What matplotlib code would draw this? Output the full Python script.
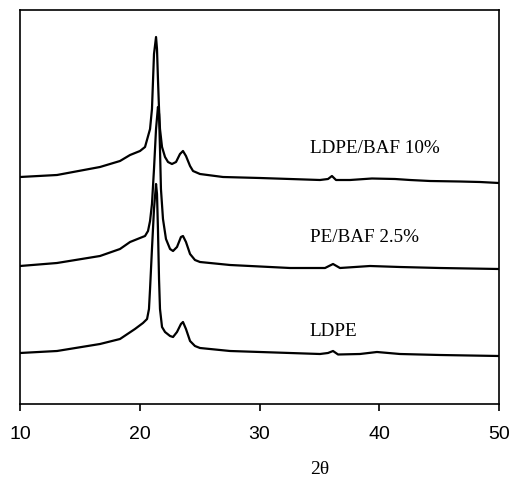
import matplotlib
matplotlib.use("Agg")
import matplotlib.pyplot as plt

# XRD patterns (2-theta in degrees, intensity in arbitrary units)
ldpe_baf10_2theta = [10.00, 13.09, 16.68, 18.35, 19.19, 20.02, 20.44, 20.86, 21.02, 21.19,
                     21.36, 21.44, 21.52, 21.61, 21.69, 21.86, 22.11, 22.36, 22.69, 23.03,
                     23.36, 23.61, 23.86, 24.20, 24.45, 25.03, 26.95, 30.04, 32.55, 35.05,
                     35.72, 36.05, 36.39, 37.56, 39.39, 41.32, 42.57, 44.24, 46.74, 48.41, 50.00]
ldpe_baf10_int = [227, 229, 237, 243, 249, 253, 257, 275, 295, 350,
                  367, 355, 325, 295, 275, 257, 247, 242, 240, 242,
                  250, 253, 248, 238, 233, 230, 227, 226, 225, 224,
                  225, 228, 224, 224, 225.5, 225, 224, 223, 222.5, 222, 221]

pe_baf25_2theta = [10.00, 13.09, 16.68, 18.35, 19.19, 20.02, 20.44, 20.69, 20.86, 21.02,
                   21.19, 21.36, 21.52, 21.61, 21.69, 21.77, 21.94, 22.19, 22.53, 22.78,
                   23.11, 23.44, 23.61, 23.86, 24.20, 24.61, 25.03, 27.54, 32.55, 35.47,
                   36.14, 36.72, 39.23, 41.73, 45.07, 50.00]
pe_baf25_int = [138, 141, 148, 155, 162, 166, 168, 173, 183, 200,
                235, 275, 297, 290, 255, 215, 185, 165, 155, 153,
                157, 167, 168, 162, 150, 144, 142, 139, 136, 136,
                140, 136, 138, 137, 136, 135]

ldpe_2theta = [10.00, 13.09, 16.68, 18.35, 19.60, 20.27, 20.61, 20.77, 20.86, 21.02,
               21.19, 21.36, 21.44, 21.52, 21.61, 21.69, 21.86, 22.11, 22.53, 22.78,
               23.11, 23.44, 23.61, 23.86, 24.20, 24.61, 25.03, 27.54, 30.04, 35.05,
               35.72, 36.14, 36.56, 38.39, 39.81, 41.73, 45.07, 50.00]
ldpe_int = [51, 53, 60, 65, 75, 81, 85, 95, 115, 155,
            195, 220, 210, 175, 125, 95, 77, 72, 68, 67,
            72, 80, 82, 75, 63, 58, 56, 53, 52, 50,
            51, 53, 49.5, 50, 52, 50, 49, 48]

labels = ["LDPE/BAF 10%", "PE/BAF 2.5%", "LDPE"]
label_pos = [(34.2, 257), (34.2, 167), (34.2, 73)]

fig = plt.figure(figsize=(5.14, 4.85), dpi=100)
ax = fig.add_axes([20 / 514, 1 - 405 / 485, 479 / 514, 394 / 485])

for xs, ys in [(ldpe_2theta, ldpe_int), (pe_baf25_2theta, pe_baf25_int),
               (ldpe_baf10_2theta, ldpe_baf10_int)]:
    ax.plot(xs, ys, color="black", linewidth=1.6)

for text, (tx, ty) in zip(labels, label_pos):
    ax.text(tx, ty, text, ha="left", va="center", fontsize=13.8,
            family="Liberation Serif")

ax.set_xlim(10, 50)
ax.set_ylim(0, 394)
ax.set_xticks([10, 20, 30, 40, 50])
ax.set_yticks([])
ax.tick_params(axis="x", direction="out", length=5, width=1.2, pad=10,
               labelsize=14)
for lab in ax.get_xticklabels():
    lab.set_family("Liberation Sans")
for s in ax.spines.values():
    s.set_linewidth(1.2)

fig.text(320 / 514, 1 - 470 / 485, "2θ", ha="center", va="center",
         fontsize=14, family="Liberation Serif")

fig.savefig("out.png", dpi=100)
